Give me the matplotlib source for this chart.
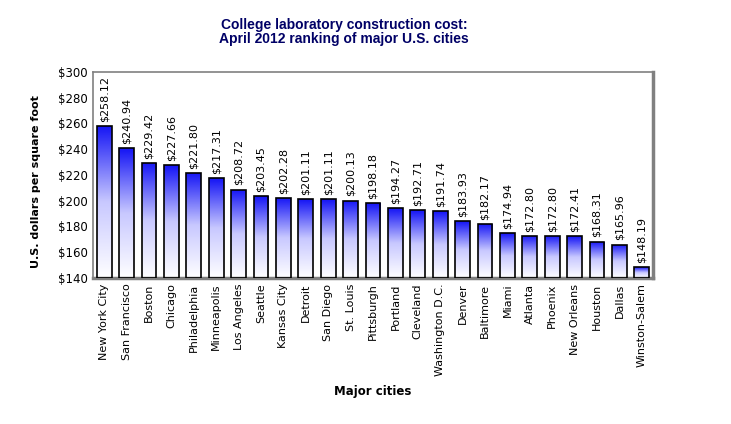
import numpy as np
import matplotlib
matplotlib.use('Agg')
import matplotlib.pyplot as plt
from matplotlib.colors import LinearSegmentedColormap

cities = ['New York City', 'San Francisco', 'Boston', 'Chicago', 'Philadelphia',
          'Minneapolis', 'Los Angeles', 'Seattle', 'Kansas City', 'Detroit',
          'San Diego', 'St. Louis', 'Pittsburgh', 'Portland', 'Cleveland',
          'Washington D.C.', 'Denver', 'Baltimore', 'Miami', 'Atlanta',
          'Phoenix', 'New Orleans', 'Houston', 'Dallas', 'Winston-Salem']
costs = [258.12, 240.94, 229.42, 227.66, 221.80, 217.31, 208.72, 203.45, 202.28,
         201.11, 201.11, 200.13, 198.18, 194.27, 192.71, 191.74, 183.93, 182.17,
         174.94, 172.80, 172.80, 172.41, 168.31, 165.96, 148.19]
y_ticks = [140, 160, 180, 200, 220, 240, 260, 280, 300]

Y_MIN = 140
Y_MAX = 300
BAR_WIDTH = 0.66

fig = plt.figure(figsize=(7.31, 4.24), dpi=100)
ax = fig.add_axes([93 / 731, 1 - 278 / 424, 560 / 731, 206 / 424])

cmap = LinearSegmentedColormap.from_list('bluewhite', ['#ffffff', '#c8c8ff', '#1414f5'])
grad = np.linspace(0, 1, 256).reshape(-1, 1)

x = np.arange(len(cities))
bars = ax.bar(x, np.array(costs) - Y_MIN, bottom=Y_MIN, width=BAR_WIDTH,
              color='none', edgecolor='black', linewidth=1.2, zorder=3)
for bar, val in zip(bars, costs):
    x0 = bar.get_x()
    img = ax.imshow(grad, cmap=cmap, aspect='auto', origin='lower',
                    extent=[x0, x0 + BAR_WIDTH, Y_MIN, val], zorder=2)
    img.set_clip_path(bar)
    ax.annotate('$%.2f' % val, xy=(bar.get_x() + BAR_WIDTH / 2, val),
                xytext=(0, 3), textcoords='offset points', rotation=90,
                ha='center', va='bottom', fontsize=8, color='black')

ax.set_xlim(-0.5, len(cities) - 0.5)
ax.set_ylim(Y_MIN, Y_MAX)
ax.set_yticks(y_ticks)
ax.set_yticklabels(['$%d' % t for t in y_ticks], fontsize=8.5)
ax.set_xticks(x)
ax.set_xticklabels(cities, rotation=90, fontsize=8)
ax.tick_params(length=0, pad=4)

for side in ['top', 'left']:
    ax.spines[side].set_color('#808080')
    ax.spines[side].set_linewidth(1.2)
for side in ['right', 'bottom']:
    ax.spines[side].set_color('#808080')
    ax.spines[side].set_linewidth(2.5)

ax.set_xlabel('Major cities', fontsize=8.5, fontweight='bold', labelpad=0)
ax.xaxis.set_label_coords(0.5, -107 / 206)
ax.set_ylabel('U.S. dollars per square foot', fontsize=8, fontweight='bold')
ax.yaxis.set_label_coords(-52 / 560, 0.47)

fig.text(344 / 731, 1 - 25.5 / 424, 'College laboratory construction cost:',
         ha='center', va='center', fontsize=10, fontweight='bold',
         color='#000066', family='Liberation Sans')
fig.text(344 / 731, 1 - 39.5 / 424, 'April 2012 ranking of major U.S. cities',
         ha='center', va='center', fontsize=10, fontweight='bold',
         color='#000066', family='Liberation Sans')

fig.savefig('out.png', dpi=100)
